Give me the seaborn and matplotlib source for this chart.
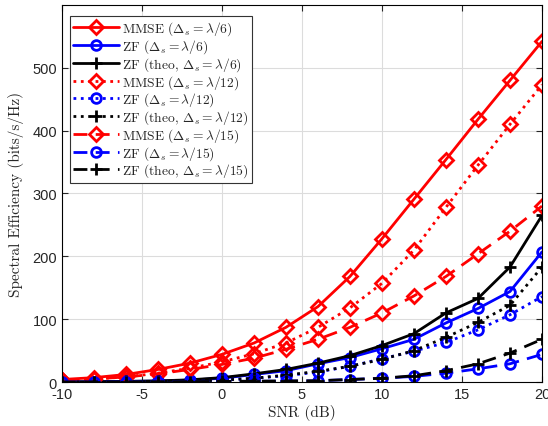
import numpy as np
import pandas as pd
import matplotlib
matplotlib.use("Agg")
import matplotlib.pyplot as plt
import seaborn as sns

snr = [-10, -8, -6, -4, -2, 0, 2, 4, 6, 8, 10, 12, 14, 16, 18, 20]

mmse_6 = [4, 7, 12, 20, 30, 44, 62, 87, 120, 168, 228, 291, 354, 418, 480, 542]
zf_6 = [0.3, 0.5, 1, 1.5, 3, 6, 12, 18, 29, 39, 53, 68, 94, 117, 144, 207]
zft_6 = [0.3, 0.5, 1, 1.8, 3.5, 7, 13, 20, 30, 42, 58, 77, 110, 133, 183, 265]

mmse_12 = [3, 5, 8, 14, 22, 32, 45, 62, 87, 118, 157, 210, 278, 345, 410, 473]
zf_12 = [0.2, 0.3, 0.5, 1, 1.5, 3, 6, 10, 16, 25, 37, 49, 63, 83, 107, 136]
zft_12 = [0.2, 0.3, 0.5, 1, 1.5, 3, 6, 11, 17, 25, 36, 50, 71, 95, 122, 183]

mmse_15 = [3, 5, 8, 13, 20, 28, 38, 52, 68, 87, 110, 137, 168, 204, 240, 280]
zf_15 = [0.1, 0.2, 0.3, 0.5, 0.7, 1, 1.2, 1.5, 2, 4, 6, 9, 14, 21, 29, 44]
zft_15 = [0.1, 0.2, 0.3, 0.5, 0.7, 1, 1.3, 1.7, 2, 4, 6, 10, 18, 29, 46, 68]

labels = [
    r"MMSE ($\Delta_s = \lambda/6$)",
    r"ZF ($\Delta_s = \lambda/6$)",
    r"ZF (theo, $\Delta_s = \lambda/6$)",
    r"MMSE ($\Delta_s = \lambda/12$)",
    r"ZF ($\Delta_s = \lambda/12$)",
    r"ZF (theo, $\Delta_s = \lambda/12$)",
    r"MMSE ($\Delta_s = \lambda/15$)",
    r"ZF ($\Delta_s = \lambda/15$)",
    r"ZF (theo, $\Delta_s = \lambda/15$)",
]

series = [mmse_6, zf_6, zft_6, mmse_12, zf_12, zft_12, mmse_15, zf_15, zft_15]
colors = ["#ff0000", "#0000ff", "#000000"] * 3
markers = ["D", "o", "+"] * 3
msizes = [7, 7, 9] * 3
styles = ["-"] * 3 + [":"] * 3 + [(0, (5, 3))] * 3

sns.set_style("ticks")
plt.rcParams["mathtext.fontset"] = "cm"
plt.rcParams["axes.unicode_minus"] = False
plt.rcParams["font.family"] = ["Liberation Sans", "DejaVu Sans"]

fig = plt.figure(figsize=(5.48, 4.27), dpi=100)
ax = fig.add_axes([0.113, 0.103, 0.876, 0.883])

for y, lab, c, mk, ms, ls in zip(series, labels, colors, markers, msizes, styles):
    df = pd.DataFrame({"SNR": snr, "SE": y})
    sns.lineplot(data=df, x="SNR", y="SE", ax=ax, color=c, linestyle=ls,
                 linewidth=2, marker=mk, markersize=ms, markerfacecolor="none",
                 markeredgecolor=c, markeredgewidth=2, label=lab)

ax.set_xlim(-10, 20)
ax.set_ylim(0, 600)
ax.set_xticks([-10, -5, 0, 5, 10, 15, 20])
ax.set_yticks([0, 100, 200, 300, 400, 500])
ax.grid(True, color="#dcdcdc", linewidth=0.8)
ax.tick_params(direction="in", top=True, right=True, labelsize=10.5, length=4)
for s in ax.spines.values():
    s.set_color("black")
    s.set_linewidth(0.8)
ax.set_xlabel("SNR (dB)", family="cmr10", fontsize=11)
ax.set_ylabel("Spectral Efficiency (bits/s/Hz)", family="cmr10", fontsize=11)
ax.xaxis.labelpad = 2
ax.yaxis.labelpad = 6
leg = ax.legend(loc="upper left", prop={"family": "cmr10", "size": 9.7},
                handlelength=3.4, labelspacing=0.0, borderpad=0.25,
                handletextpad=0.2, borderaxespad=0, fancybox=False, framealpha=1,
                edgecolor="#333333", bbox_to_anchor=(0.017, 0.97))
leg.get_frame().set_linewidth(0.8)

fig.savefig("out.png", dpi=100)
